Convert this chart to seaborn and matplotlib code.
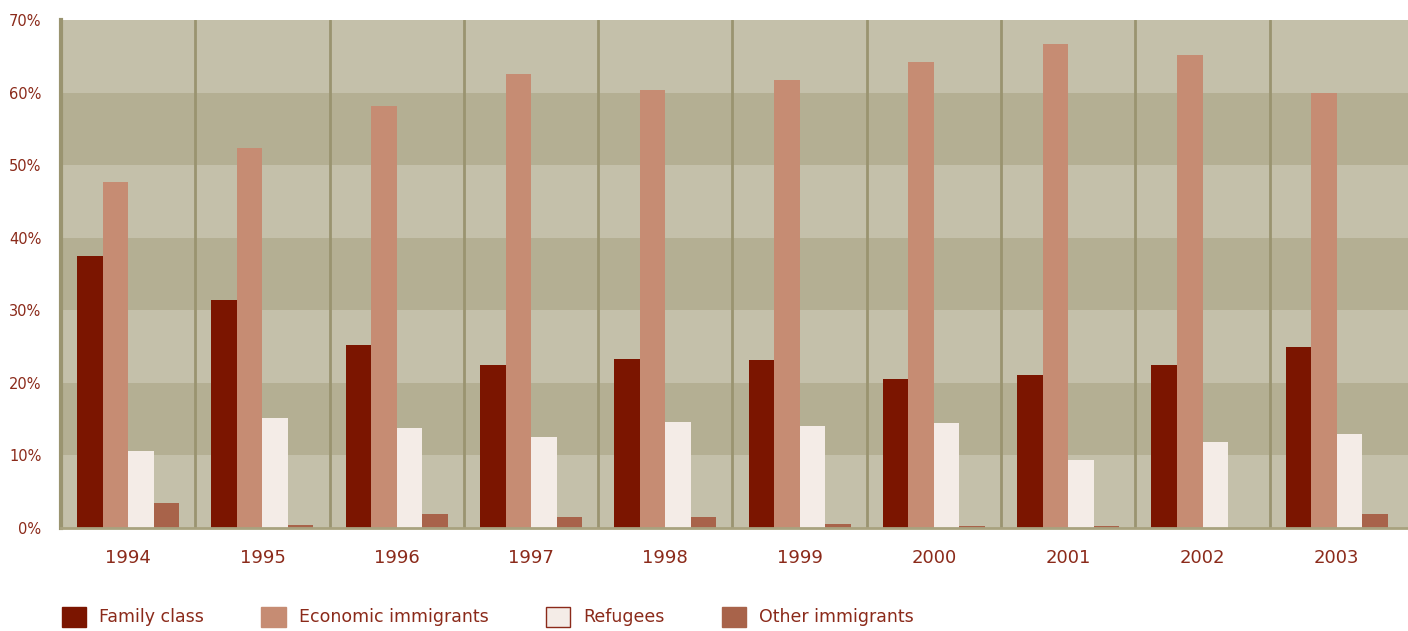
import numpy as np
import pandas as pd
import matplotlib
matplotlib.use("Agg")
import matplotlib.pyplot as plt
from matplotlib.patches import Patch
import seaborn as sns

# Data (share of immigrants, %)
years = ["1994", "1995", "1996", "1997", "1998", "1999", "2000", "2001", "2002", "2003"]
family_class = [37.5, 31.4, 25.2, 22.5, 23.3, 23.1, 20.5, 21.1, 22.5, 24.9]
economic = [47.7, 52.4, 58.2, 62.6, 60.4, 61.7, 64.2, 66.7, 65.2, 59.9]
refugees = [10.6, 15.2, 13.8, 12.5, 14.6, 14.1, 14.5, 9.4, 11.9, 13.0]
other = [3.4, 0.4, 1.9, 1.5, 1.5, 0.5, 0.3, 0.3, 0.0, 1.9]

series_names = ["Family class", "Economic immigrants", "Refugees", "Other immigrants"]
colors = ["#7B1500", "#C68C73", "#F4ECE7", "#A8634A"]
text_color = "#8B2A1A"

df = pd.DataFrame({"year": years, series_names[0]: family_class, series_names[1]: economic,
                   series_names[2]: refugees, series_names[3]: other})
long = df.melt(id_vars="year", var_name="type", value_name="pct")

sns.set_style("white")
plt.rcParams["font.family"] = ["DejaVu Sans"]

fig = plt.figure(figsize=(14.08, 6.31), dpi=100)
ax = fig.add_axes([61 / 1408, (631 - 528) / 631, (1408 - 61) / 1408, (528 - 20) / 631])

# alternating horizontal bands
for lo in range(0, 70, 10):
    ax.axhspan(lo, lo + 10, color="#B4AF93" if (lo // 10) % 2 else "#C4C0AA", zorder=0, lw=0)

sns.barplot(data=long, x="year", y="pct", hue="type", palette=colors, width=0.76,
            saturation=1, edgecolor="none", linewidth=0, legend=False, ax=ax, zorder=2)

ax.set_xlim(-0.5, 9.53)
ax.set_ylim(0, 70)
for i in range(1, 10):
    ax.axvline(i - 0.5, color="#9A9470", lw=2, zorder=1)

for s in ["top", "right"]:
    ax.spines[s].set_visible(False)
ax.spines["left"].set_color("#9A9470")
ax.spines["left"].set_linewidth(3)
ax.spines["bottom"].set_color("#A8A27F")
ax.spines["bottom"].set_linewidth(2)

ax.set_yticks(range(0, 71, 10))
ax.set_yticklabels([f"{v}%" for v in range(0, 71, 10)])
ax.tick_params(axis="y", length=0, pad=14, labelsize=10.5, labelcolor=text_color)
ax.tick_params(axis="x", length=0, pad=15, labelsize=13, labelcolor=text_color)
ax.set_xlabel("")
ax.set_ylabel("")

handles = [Patch(facecolor=c, edgecolor=(text_color if n == "Refugees" else c), lw=1)
           for n, c in zip(series_names, colors)]
leg = fig.legend(handles, series_names, loc="lower left", bbox_to_anchor=(0.039, -0.004),
                 ncol=4, frameon=False, fontsize=12.5, handlelength=1.4, handleheight=1.4,
                 handletextpad=0.75, columnspacing=3.3, borderaxespad=0)
for t in leg.get_texts():
    t.set_color(text_color)

fig.savefig("out.png", dpi=100)
